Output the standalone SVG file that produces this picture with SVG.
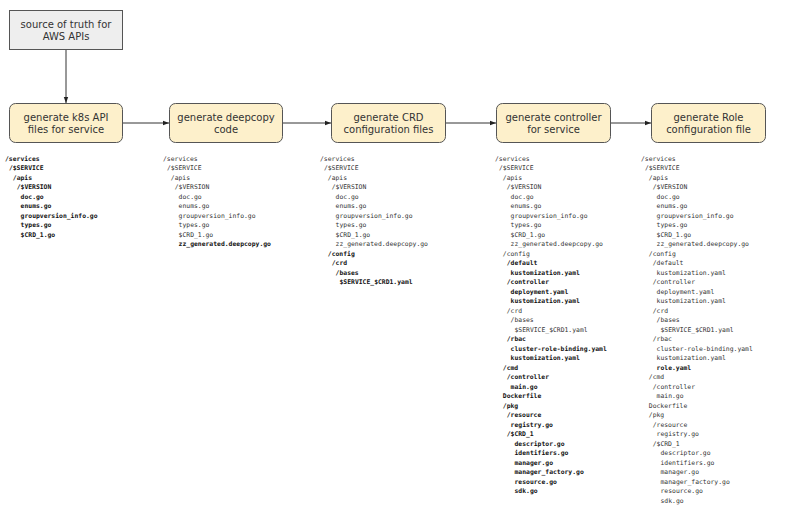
<svg xmlns="http://www.w3.org/2000/svg" width="799" height="518" viewBox="0 0 799 518">
<style>
.box{fill:#fdf0cb;stroke:#555555;stroke-width:1}
.src{fill:#eeeeee;stroke:#555555;stroke-width:1}
.lbl{font-family:"DejaVu Sans","Open Sans",sans-serif;font-size:10px;fill:#333333;text-anchor:middle}
.conn{stroke:#333333;stroke-width:1;fill:none}
.t{font-family:"DejaVu Sans Mono","Liberation Mono",monospace;font-size:6.4px;fill:#333333}
.b{font-family:"DejaVu Sans Mono","Liberation Mono",monospace;font-size:6.4px;fill:#111111;font-weight:bold}
</style>
<defs>
<marker id="ah" viewBox="0 0 6 6" refX="6" refY="3" markerWidth="6" markerHeight="6" markerUnits="userSpaceOnUse" orient="auto">
<path d="M0,0.8 L6,3 L0,5.2 z" fill="#222222"/>
</marker>
</defs>
<rect width="799" height="518" fill="#ffffff"/>
<g id="connectors">
<line class="conn" x1="66" y1="49" x2="66" y2="103" marker-end="url(#ah)"/>
<line class="conn" x1="123" y1="123" x2="169" y2="123" marker-end="url(#ah)"/>
<line class="conn" x1="283" y1="123" x2="331" y2="123" marker-end="url(#ah)"/>
<line class="conn" x1="446" y1="123" x2="496" y2="123" marker-end="url(#ah)"/>
<line class="conn" x1="611" y1="123" x2="651" y2="123" marker-end="url(#ah)"/>
</g>
<g id="source">
<rect class="src" x="9.5" y="10.5" width="113" height="39"/>
<text class="lbl" x="66" y="28.3">source of truth for</text>
<text class="lbl" x="66" y="40.1">AWS APIs</text>
</g>
<g id="step1">
<rect class="box" x="9.5" y="103.5" width="113" height="39" rx="6"/>
<text class="lbl" x="66" y="121.3">generate k8s API</text>
<text class="lbl" x="66" y="133.1">files for service</text>
</g>
<g id="step2">
<rect class="box" x="169.5" y="103.5" width="113" height="39" rx="6"/>
<text class="lbl" x="226" y="121.3">generate deepcopy</text>
<text class="lbl" x="226" y="133.1">code</text>
</g>
<g id="step3">
<rect class="box" x="331.5" y="103.5" width="114" height="39" rx="6"/>
<text class="lbl" x="388.5" y="121.3">generate CRD</text>
<text class="lbl" x="388.5" y="133.1">configuration files</text>
</g>
<g id="step4">
<rect class="box" x="496.5" y="103.5" width="114" height="39" rx="6"/>
<text class="lbl" x="553.5" y="121.3">generate controller</text>
<text class="lbl" x="553.5" y="133.1">for service</text>
</g>
<g id="step5">
<rect class="box" x="651.5" y="103.5" width="114" height="39" rx="6"/>
<text class="lbl" x="708.5" y="121.3">generate Role</text>
<text class="lbl" x="708.5" y="133.1">configuration file</text>
</g>
<g id="tree1">
<text class="b" x="5" y="160.5">/services</text>
<text class="b" x="8.9" y="170">/$SERVICE</text>
<text class="b" x="12.8" y="179.5">/apis</text>
<text class="b" x="16.7" y="189">/$VERSION</text>
<text class="b" x="20.6" y="198.5">doc.go</text>
<text class="b" x="20.6" y="208">enums.go</text>
<text class="b" x="20.6" y="217.5">groupversion_info.go</text>
<text class="b" x="20.6" y="227">types.go</text>
<text class="b" x="20.6" y="236.5">$CRD_1.go</text>
</g>
<g id="tree2">
<text class="t" x="163" y="160.5">/services</text>
<text class="t" x="166.9" y="170">/$SERVICE</text>
<text class="t" x="170.8" y="179.5">/apis</text>
<text class="t" x="174.7" y="189">/$VERSION</text>
<text class="t" x="178.6" y="198.5">doc.go</text>
<text class="t" x="178.6" y="208">enums.go</text>
<text class="t" x="178.6" y="217.5">groupversion_info.go</text>
<text class="t" x="178.6" y="227">types.go</text>
<text class="t" x="178.6" y="236.5">$CRD_1.go</text>
<text class="b" x="178.6" y="246">zz_generated.deepcopy.go</text>
</g>
<g id="tree3">
<text class="t" x="320" y="160.5">/services</text>
<text class="t" x="323.9" y="170">/$SERVICE</text>
<text class="t" x="327.8" y="179.5">/apis</text>
<text class="t" x="331.7" y="189">/$VERSION</text>
<text class="t" x="335.6" y="198.5">doc.go</text>
<text class="t" x="335.6" y="208">enums.go</text>
<text class="t" x="335.6" y="217.5">groupversion_info.go</text>
<text class="t" x="335.6" y="227">types.go</text>
<text class="t" x="335.6" y="236.5">$CRD_1.go</text>
<text class="t" x="335.6" y="246">zz_generated.deepcopy.go</text>
<text class="b" x="327.8" y="255.5">/config</text>
<text class="b" x="331.7" y="265">/crd</text>
<text class="b" x="335.6" y="274.5">/bases</text>
<text class="b" x="339.5" y="284">$SERVICE_$CRD1.yaml</text>
</g>
<g id="tree4">
<text class="t" x="495" y="160.5">/services</text>
<text class="t" x="498.9" y="170">/$SERVICE</text>
<text class="t" x="502.8" y="179.5">/apis</text>
<text class="t" x="506.7" y="189">/$VERSION</text>
<text class="t" x="510.6" y="198.5">doc.go</text>
<text class="t" x="510.6" y="208">enums.go</text>
<text class="t" x="510.6" y="217.5">groupversion_info.go</text>
<text class="t" x="510.6" y="227">types.go</text>
<text class="t" x="510.6" y="236.5">$CRD_1.go</text>
<text class="t" x="510.6" y="246">zz_generated.deepcopy.go</text>
<text class="t" x="502.8" y="255.5">/config</text>
<text class="b" x="506.7" y="265">/default</text>
<text class="b" x="510.6" y="274.5">kustomization.yaml</text>
<text class="b" x="506.7" y="284">/controller</text>
<text class="b" x="510.6" y="293.5">deployment.yaml</text>
<text class="b" x="510.6" y="303">kustomization.yaml</text>
<text class="t" x="506.7" y="312.5">/crd</text>
<text class="t" x="510.6" y="322">/bases</text>
<text class="t" x="514.5" y="331.5">$SERVICE_$CRD1.yaml</text>
<text class="b" x="506.7" y="341">/rbac</text>
<text class="b" x="510.6" y="350.5">cluster-role-binding.yaml</text>
<text class="b" x="510.6" y="360">kustomization.yaml</text>
<text class="b" x="502.8" y="369.5">/cmd</text>
<text class="b" x="506.7" y="379">/controller</text>
<text class="b" x="510.6" y="388.5">main.go</text>
<text class="b" x="502.8" y="398">Dockerfile</text>
<text class="b" x="502.8" y="407.5">/pkg</text>
<text class="b" x="506.7" y="417">/resource</text>
<text class="b" x="510.6" y="426.5">registry.go</text>
<text class="b" x="506.7" y="436">/$CRD_1</text>
<text class="b" x="514.5" y="445.5">descriptor.go</text>
<text class="b" x="514.5" y="455">identifiers.go</text>
<text class="b" x="514.5" y="464.5">manager.go</text>
<text class="b" x="514.5" y="474">manager_factory.go</text>
<text class="b" x="514.5" y="483.5">resource.go</text>
<text class="b" x="514.5" y="493">sdk.go</text>
</g>
<g id="tree5">
<text class="t" x="641" y="160.5">/services</text>
<text class="t" x="644.9" y="170">/$SERVICE</text>
<text class="t" x="648.8" y="179.5">/apis</text>
<text class="t" x="652.7" y="189">/$VERSION</text>
<text class="t" x="656.6" y="198.5">doc.go</text>
<text class="t" x="656.6" y="208">enums.go</text>
<text class="t" x="656.6" y="217.5">groupversion_info.go</text>
<text class="t" x="656.6" y="227">types.go</text>
<text class="t" x="656.6" y="236.5">$CRD_1.go</text>
<text class="t" x="656.6" y="246">zz_generated.deepcopy.go</text>
<text class="t" x="648.8" y="255.5">/config</text>
<text class="t" x="652.7" y="265">/default</text>
<text class="t" x="656.6" y="274.5">kustomization.yaml</text>
<text class="t" x="652.7" y="284">/controller</text>
<text class="t" x="656.6" y="293.5">deployment.yaml</text>
<text class="t" x="656.6" y="303">kustomization.yaml</text>
<text class="t" x="652.7" y="312.5">/crd</text>
<text class="t" x="656.6" y="322">/bases</text>
<text class="t" x="660.5" y="331.5">$SERVICE_$CRD1.yaml</text>
<text class="t" x="652.7" y="341">/rbac</text>
<text class="t" x="656.6" y="350.5">cluster-role-binding.yaml</text>
<text class="t" x="656.6" y="360">kustomization.yaml</text>
<text class="b" x="656.6" y="369.5">role.yaml</text>
<text class="t" x="648.8" y="379">/cmd</text>
<text class="t" x="652.7" y="388.5">/controller</text>
<text class="t" x="656.6" y="398">main.go</text>
<text class="t" x="648.8" y="407.5">Dockerfile</text>
<text class="t" x="648.8" y="417">/pkg</text>
<text class="t" x="652.7" y="426.5">/resource</text>
<text class="t" x="656.6" y="436">registry.go</text>
<text class="t" x="652.7" y="445.5">/$CRD_1</text>
<text class="t" x="660.5" y="455">descriptor.go</text>
<text class="t" x="660.5" y="464.5">identifiers.go</text>
<text class="t" x="660.5" y="474">manager.go</text>
<text class="t" x="660.5" y="483.5">manager_factory.go</text>
<text class="t" x="660.5" y="493">resource.go</text>
<text class="t" x="660.5" y="502.5">sdk.go</text>
</g>
</svg>
